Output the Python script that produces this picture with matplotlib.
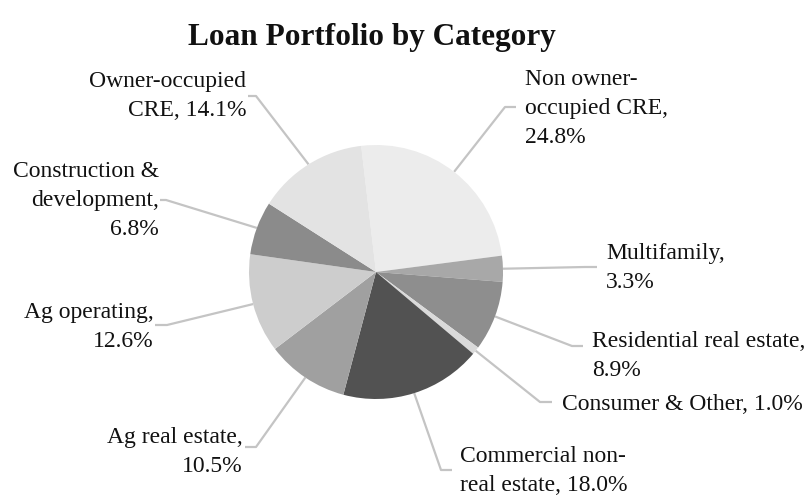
import numpy as np
import matplotlib
matplotlib.use("Agg")
import matplotlib.pyplot as plt

# data
categories = ["Non owner-occupied CRE", "Multifamily", "Residential real estate",
              "Consumer & Other", "Commercial non-real estate", "Ag real estate",
              "Ag operating", "Construction & development", "Owner-occupied CRE"]
shares = [24.8, 3.3, 8.9, 1.0, 18.0, 10.5, 12.6, 6.8, 14.1]
label_text = ["Non owner-\noccupied CRE,\n24.8%", "Multifamily,\n3.3%",
              "Residential real estate,\n8.9%", "Consumer & Other, 1.0%",
              "Commercial non-\nreal estate, 18.0%", "Ag real estate,\n10.5%",
              "Ag operating,\n12.6%", "Construction &\ndevelopment,\n6.8%",
              "Owner-occupied\nCRE, 14.1%"]
colors = ["#ececec", "#a8a8a8", "#8e8e8e", "#dadada", "#525252",
          "#a0a0a0", "#cdcdcd", "#8b8b8b", "#e3e3e3"]

W, H = 810, 499
def py(y):  # pixel row (from top) -> data y
    return H - y

# label layout: (elbow x, elbow y, end x, text x, text y, align)
layout = [
    (505, 107, 516, 525, 108, "left"),
    (585, 267, 597, 606, 268, "left"),
    (572, 346, 583, 592, 356, "left"),
    (540, 402, 552, 562, 404, "left"),
    (441, 470, 452, 460, 471, "left"),
    (256, 447, 245, 243, 452, "right"),
    (167, 325, 155, 154, 327, "right"),
    (166, 200, 160, 159, 200, "right"),
    (256, 96, 248, 246, 96, "right"),
]

plt.rcParams['font.family'] = ['Liberation Serif', 'DejaVu Serif']

fig = plt.figure(figsize=(8.1, 4.99), dpi=100)
ax = fig.add_axes([0, 0, 1, 1])
wedges, _ = ax.pie(shares, colors=colors, startangle=96.7, counterclock=False,
                   center=(376, py(272)), radius=127,
                   wedgeprops=dict(linewidth=0))
ax.set_xlim(0, W)
ax.set_ylim(0, H)
ax.set_aspect('equal')
ax.axis('off')

for w, txt, (ex, ey, endx, tx, ty, ha) in zip(wedges, label_text, layout):
    mid = np.deg2rad((w.theta1 + w.theta2) / 2)
    x0 = w.center[0] + w.r * np.cos(mid)
    y0 = w.center[1] + w.r * np.sin(mid)
    ax.plot([x0, ex, endx], [y0, py(ey), py(ey)], color="#c4c4c4", lw=1.6,
            solid_capstyle='butt', zorder=0)
    ax.text(tx, py(ty), txt, ha=ha, va='center', multialignment=ha,
            fontsize=17, color="#111111", linespacing=1.5)

ax.text(372, py(37), "Loan Portfolio by Category", ha='center', va='center',
        fontsize=22.5, fontweight='bold', color="#111111")

fig.savefig("out.png", dpi=100)
